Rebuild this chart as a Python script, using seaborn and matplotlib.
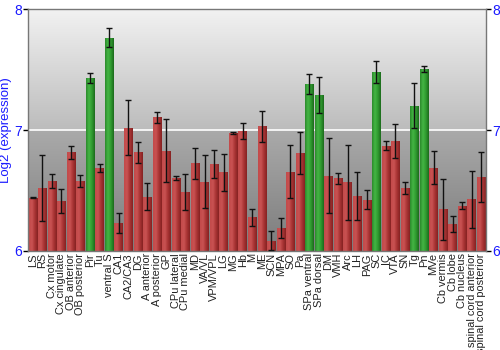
import numpy as np
import pandas as pd
import matplotlib
matplotlib.use("Agg")
import matplotlib.pyplot as plt
import seaborn as sns
from matplotlib.colors import LinearSegmentedColormap

regions = ["LS", "RS", "Cx motor", "Cx cingulate", "OB anterior", "OB posterior",
           "Pir", "Tu", "ventral S", "CA1", "CA2/CA3", "DG", "A anterior",
           "A posterior", "GP", "CPu lateral", "CPu medial", "MD", "VA/VL",
           "VPM/VPL", "LG", "MG", "Hb", "M", "ME", "SCN", "MPA", "SO", "Pa",
           "SPa ventral", "SPa dorsal", "DM", "VMH", "Arc", "LH", "PAG", "SC",
           "IC", "VTA", "SN", "Tg", "Pn", "MVe", "Cb vermis", "Cb lobe",
           "Cb nucleus", "spinal cord anterior", "spinal cord posterior"]

log2_expr = [6.44, 6.52, 6.58, 6.41, 6.815, 6.575,
             7.43, 6.685, 7.765, 6.23, 7.02, 6.815, 6.45,
             7.105, 6.83, 6.605, 6.486, 6.724, 6.572,
             6.718, 6.649, 6.975, 6.99, 6.28, 7.03, 6.086, 6.19, 6.655, 6.81,
             7.38, 7.29, 6.62, 6.60, 6.57, 6.453, 6.425, 7.483,
             6.87, 6.906, 6.52, 7.2, 7.508, 6.69, 6.343, 6.224,
             6.373, 6.428, 6.61]

std_err = [0.005, 0.27, 0.06, 0.10, 0.055, 0.05,
           0.04, 0.035, 0.08, 0.08, 0.23, 0.09, 0.11,
           0.045, 0.26, 0.015, 0.15, 0.13, 0.22,
           0.115, 0.155, 0.005, 0.065, 0.07, 0.13, 0.08, 0.085, 0.22, 0.175,
           0.083, 0.15, 0.31, 0.045, 0.31, 0.20, 0.075, 0.09,
           0.036, 0.14, 0.05, 0.185, 0.025, 0.14, 0.25, 0.065,
           0.028, 0.235, 0.205]

enriched = ["Pir", "ventral S", "SPa ventral", "SPa dorsal", "SC", "Tg", "Pn"]

df = pd.DataFrame({"region": regions, "value": log2_expr, "err": std_err})
df["group"] = np.where(df["region"].isin(enriched), "high", "base")

y_min, y_max = 6, 8
font = ["Liberation Sans", "DejaVu Sans"]
blue = "#1a1aff"

fig = plt.figure(figsize=(5, 3.5), dpi=100)
ax = fig.add_axes([0.056, 0.283, 0.916, 0.691])

# grey banded gradient background
upper = LinearSegmentedColormap.from_list("upper", ["#bcbcbc", "#f2f2f2"])
lower = LinearSegmentedColormap.from_list("lower", ["#7c7c7c", "#aaaaaa"])
grad = np.linspace(0, 1, 256).reshape(-1, 1)
n = len(regions)
ax.imshow(grad, cmap=lower, origin="lower", aspect="auto",
          extent=(-0.5, n - 0.5, 6, 7), zorder=0)
ax.imshow(grad, cmap=upper, origin="lower", aspect="auto",
          extent=(-0.5, n - 0.5, 7, 8), zorder=0)
ax.axhline(7, color="white", lw=1.2, zorder=1)

bar_colors = {r: ("#2f9a2f" if g == "high" else "#b03434")
              for r, g in zip(df["region"], df["group"])}
sns.barplot(data=df, x="region", y="value", hue="region", palette=bar_colors,
            dodge=False, legend=False, width=0.88, ax=ax, zorder=2,
            linewidth=0)

# horizontal shading inside each bar
red_cm = LinearSegmentedColormap.from_list("red", ["#c24a4a", "#c95252", "#a83434", "#852222"])
green_cm = LinearSegmentedColormap.from_list("green", ["#2c8a2c", "#44b544", "#2f9a2f", "#1c6a1c"])
hgrad = np.linspace(0, 1, 64).reshape(1, -1)
bars = sorted(ax.patches, key=lambda p: p.get_x())
for patch, grp in zip(bars, df["group"]):
    x0, w = patch.get_x(), patch.get_width()
    h = patch.get_height()
    cm = green_cm if grp == "high" else red_cm
    im = ax.imshow(hgrad, cmap=cm, aspect="auto",
                   extent=(x0, x0 + w, y_min, h), zorder=2.5)
    im.set_clip_path(patch)

ax.errorbar(np.arange(n), df["value"], yerr=df["err"], fmt="none",
            ecolor="#111111", elinewidth=1, capsize=2.5, capthick=1, zorder=3)

ax.set_xlim(-0.5, n - 0.5)
ax.set_ylim(y_min, y_max)
ax.set_yticks([6, 7, 8])
ax.set_xlabel("")
ax.set_ylabel("Log2 (expression)", color=blue, fontsize=9.5, family=font)
ax.yaxis.set_label_coords(-0.034, 0.5)
ax.tick_params(axis="y", colors="black", labelcolor=blue, labelsize=10,
               length=3.5, width=1, right=True, labelright=True, pad=1)
ax.tick_params(axis="x", labelsize=7.9, rotation=90, length=0, pad=1.5,
               labelcolor="#222222")
for lbl in ax.get_xticklabels():
    lbl.set_fontfamily(font)
for t in ax.yaxis.get_major_ticks():
    t.label1.set_fontfamily(font)
    t.label2.set_fontfamily(font)
for side in ["top", "left", "right", "bottom"]:
    ax.spines[side].set_color("#777777")
    ax.spines[side].set_linewidth(1)

fig.savefig("out.png", dpi=100)
